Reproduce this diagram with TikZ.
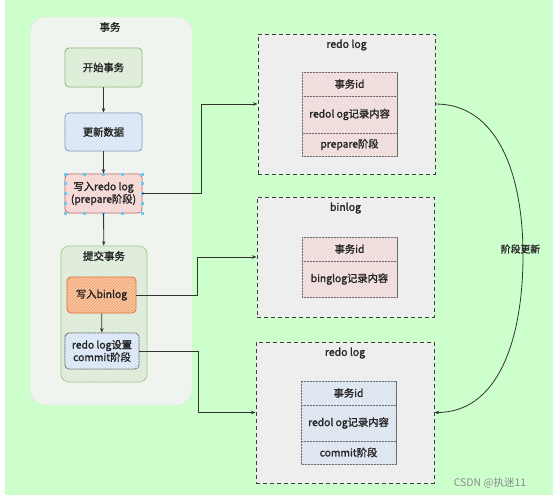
\documentclass[tikz,border=0pt]{standalone}
\usepackage{fontspec}
\setmainfont{Noto Sans CJK SC}[FakeBold=1.6]
\newfontfamily\wmfont{Noto Sans CJK SC}
\usetikzlibrary{arrows.meta,patterns}
\definecolor{bggreen}{HTML}{CCFFCC}
\definecolor{contfill}{HTML}{F0F4EE}
\definecolor{contline}{HTML}{DDE6DA}
\definecolor{grnline}{HTML}{82B366}
\definecolor{grnfill}{HTML}{E8F2E2}
\definecolor{grnhatch}{HTML}{CFE5CA}
\definecolor{bluline}{HTML}{6C8EBF}
\definecolor{blufill}{HTML}{E6EEF8}
\definecolor{bluhatch}{HTML}{CBDDF5}
\definecolor{redline}{HTML}{B85450}
\definecolor{redfill}{HTML}{F7E4E2}
\definecolor{redhatch}{HTML}{F3C6C3}
\definecolor{orgline}{HTML}{E0693A}
\definecolor{orgfill}{HTML}{F9C9A6}
\definecolor{orghatch}{HTML}{F19A62}
\definecolor{grayline}{HTML}{666666}
\definecolor{logfill}{HTML}{EEEEEE}
\definecolor{pinkfill}{HTML}{F4E6E6}
\definecolor{pinkhatch}{HTML}{EECFCF}
\definecolor{tblufill}{HTML}{E6ECF3}
\definecolor{tbluhatch}{HTML}{D2DEEC}
\definecolor{handle}{HTML}{6FC8F2}
\definecolor{wmgray}{HTML}{8C8C8C}
\tikzset{
  arr/.style={draw=black!80, line width=0.8pt, -{Stealth[length=4.5pt,width=3.5pt]}},
  hatch/.style={postaction={pattern=north east lines, pattern color=#1}},
  stepbox/.style={draw, rounded corners=4pt, line width=0.8pt, align=center, inner sep=0pt,
    font=\fontsize{10.3}{12.5}\selectfont, text=black!85},
  logbox/.style={draw=black!75, dashed, dash pattern=on 4pt off 3pt, line width=1pt, fill=logfill, inner sep=0pt},
  cell/.style={draw=grayline, line width=0.8pt, inner sep=0pt, font=\fontsize{10.3}{12}\selectfont, text=black!85},
  ttl/.style={font=\fontsize{10.5}{12}\selectfont, text=black!85, inner sep=0pt},
}
\begin{document}
\begin{tikzpicture}[x=1pt,y=-1pt]
\useasboundingbox (0,0) rectangle (553,499);
\fill[white] (0,0) rectangle (553,499);
\fill[bggreen] (5,0) rectangle (553,495);

% left container
\node[draw=contline, fill=contfill, rounded corners=15pt, minimum width=162, minimum height=388, inner sep=0pt] (tx) at (111,211) {};
\node[ttl] (txt) at (110,27) {事务};

\node[stepbox, draw=grnline, fill=grnfill, hatch=grnhatch, minimum width=77, minimum height=39] (start) at (103.5,67.5) {开始事务};
\node[stepbox, draw=bluline, fill=blufill, hatch=bluhatch, minimum width=77, minimum height=38] (upd) at (103.5,132) {更新数据};
\node[stepbox, draw=redline, fill=redfill, hatch=redhatch, minimum width=77, minimum height=39] (wredo) at (103.5,193.5) {写入redo log\\(prepare阶段)};

% selection handles
\foreach \hx in {65,84.25,103.5,122.75,142}{
  \fill[handle] (\hx-1.5,172.5) rectangle (\hx+1.5,175.5);
  \fill[handle] (\hx-1.5,211.5) rectangle (\hx+1.5,214.5);
}
\foreach \hy in {183.75,193.5,203.25}{
  \fill[handle] (63.5,\hy-1.5) rectangle (66.5,\hy+1.5);
  \fill[handle] (140.5,\hy-1.5) rectangle (143.5,\hy+1.5);
}

% commit container
\node[draw=grnline!80, fill=grnfill, hatch=grnhatch, rounded corners=8pt, line width=0.8pt, minimum width=86, minimum height=136, inner sep=0pt] (cbox) at (104,314) {};
\node[ttl] (ctitle) at (104,256) {提交事务};
\node[stepbox, draw=orgline, fill=orgfill, hatch=orghatch, minimum width=69, minimum height=36] (wbin) at (101.5,295) {写入binlog};
\node[stepbox, draw=grayline, fill=blufill, hatch=bluhatch, minimum width=74, minimum height=36] (setc) at (102,351) {redo log设置\\commit阶段};

\draw[arr] (start) -- (upd);
\draw[arr] (upd) -- (wredo);
\draw[arr] (wredo) -- (cbox);
\draw[arr] (wbin) -- (setc);

% right: redo log (prepare)
\node[logbox, minimum width=177, minimum height=140] (redo1) at (346.5,104) {};
\node[ttl] (redo1t) at (346.5,45) {redo log};
\node[cell, fill=pinkfill, hatch=pinkhatch, minimum width=95, minimum height=24] (r1a) at (349.5,84) {事务id};
\node[cell, fill=pinkfill, hatch=pinkhatch, minimum width=95, minimum height=37] (r1b) at (349.5,114.5) {redol og记录内容};
\node[cell, fill=pinkfill, hatch=pinkhatch, minimum width=95, minimum height=23] (r1c) at (349.5,144.5) {prepare阶段};

% right: binlog
\node[logbox, minimum width=177, minimum height=120] (bin) at (345.5,257) {};
\node[ttl] (bint) at (345.5,208) {binlog};
\node[cell, fill=pinkfill, hatch=pinkhatch, minimum width=95, minimum height=24] (b1a) at (349.5,249) {事务id};
\node[cell, fill=pinkfill, hatch=pinkhatch, minimum width=95, minimum height=36] (b1b) at (349.5,279) {binglog记录内容};

% right: redo log (commit)
\node[logbox, minimum width=178, minimum height=141] (redo3) at (345,412.5) {};
\node[ttl] (redo3t) at (345,353) {redo log};
\node[cell, fill=tblufill, hatch=tbluhatch, minimum width=95, minimum height=24] (r3a) at (348.5,393) {事务id};
\node[cell, fill=tblufill, hatch=tbluhatch, minimum width=95, minimum height=36] (r3b) at (348.5,423) {redol og记录内容};
\node[cell, fill=tblufill, hatch=tbluhatch, minimum width=95, minimum height=23] (r3c) at (348.5,452.5) {commit阶段};

% connectors
\draw[arr] (wredo.east) -- ++(59,0) |- (redo1.west);
\draw[arr] (wbin.east) -- ++(61,0) |- (bin.west);
\draw[arr] (setc.east) -- ++(59,0) |- (redo3.west);

\coordinate (mid) at (523,255);
\draw[arr] (redo1.east) .. controls (498,104) and (523,175) .. (mid) .. controls (523,340) and (498,412.5) .. (redo3.east);
\node[font=\fontsize{9.8}{11}\selectfont, text=black!85, inner sep=0pt] (lbl) at (520.5,249) {阶段更新};

\node[font=\wmfont\fontsize{10.5}{12}\selectfont, text=wmgray, inner sep=0pt] (wm) at (490,483) {CSDN @执迷11};
\end{tikzpicture}
\end{document}
